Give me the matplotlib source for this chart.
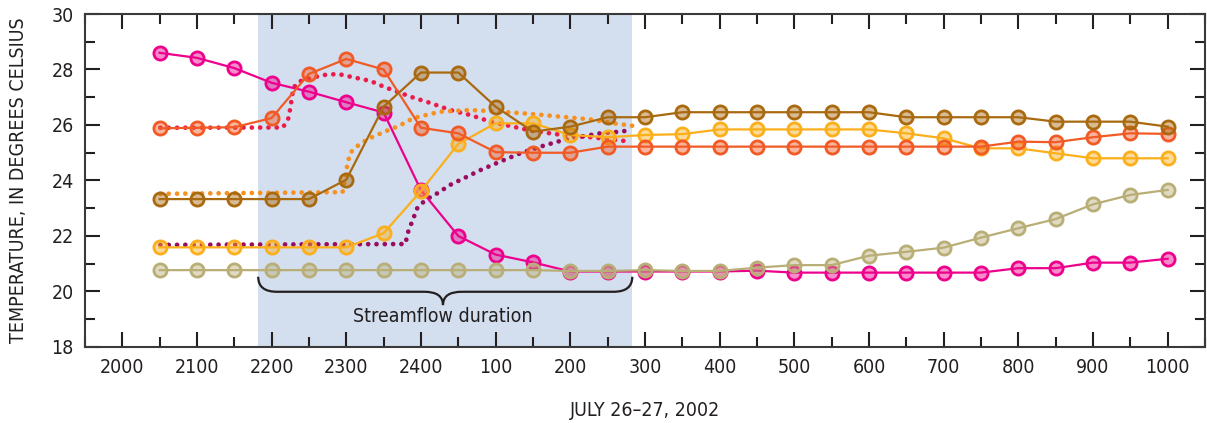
import numpy as np
import matplotlib
matplotlib.use("Agg")
import matplotlib.pyplot as plt
import matplotlib.ticker as ticker
from matplotlib.path import Path
import matplotlib.patches as mpatches
from matplotlib.colors import to_rgba
from matplotlib import font_manager

# narrow face if one is installed, else plain DejaVu
names = set(f.name for f in font_manager.fontManager.ttflist)
cond = [f for f in font_manager.fontManager.ttflist
        if f.name == 'DejaVu Sans' and 'Condensed' in f.fname and 'Bold' not in f.fname
        and 'Oblique' not in f.fname]
if cond:
    plt.rcParams['font.family'] = ['DejaVu Sans']
    plt.rcParams['font.stretch'] = 'condensed'
elif 'Roboto Condensed' in names:
    plt.rcParams['font.family'] = ['Roboto Condensed', 'DejaVu Sans']
else:
    plt.rcParams['font.family'] = ['Roboto', 'DejaVu Sans']

# hours after 2000 on July 26, measured every half hour
hours = np.arange(0.5, 14.01, 0.5)
tick_labels = ['2000', '2100', '2200', '2300', '2400', '100', '200', '300',
               '400', '500', '600', '700', '800', '900', '1000']

magenta = [28.6, 28.42, 28.05, 27.52, 27.2, 26.82, 26.45, 23.65, 22.0, 21.33,
           21.05, 20.72, 20.72, 20.72, 20.72, 20.72, 20.75, 20.68, 20.68, 20.68,
           20.68, 20.68, 20.68, 20.84, 20.84, 21.04, 21.04, 21.18]
orange_red = [25.88, 25.9, 25.92, 26.25, 27.84, 28.38, 28.0, 25.9, 25.7, 25.02,
              25.0, 25.0, 25.22, 25.22, 25.22, 25.22, 25.22, 25.22, 25.22, 25.22,
              25.22, 25.22, 25.22, 25.4, 25.38, 25.56, 25.7, 25.68]
brown = [23.33, 23.33, 23.33, 23.33, 23.33, 24.03, 26.66, 27.89, 27.89, 26.66,
         25.76, 25.94, 26.28, 26.28, 26.46, 26.46, 26.46, 26.46, 26.46, 26.46,
         26.28, 26.28, 26.28, 26.28, 26.12, 26.12, 26.12, 25.94]
yellow = [21.59, 21.59, 21.59, 21.59, 21.59, 21.59, 22.1, 23.62, 25.32, 26.06,
          26.06, 25.64, 25.56, 25.64, 25.67, 25.84, 25.84, 25.84, 25.84, 25.84,
          25.7, 25.52, 25.16, 25.16, 24.98, 24.8, 24.8, 24.8]
khaki = [20.77, 20.77, 20.77, 20.77, 20.77, 20.77, 20.77, 20.77, 20.77, 20.77,
         20.77, 20.74, 20.74, 20.77, 20.74, 20.74, 20.86, 20.95, 20.95, 21.29,
         21.43, 21.58, 21.94, 22.28, 22.61, 23.14, 23.48, 23.66]

# dotted (simulated) curves
red_dot_x = [0.51, 2.15, 2.22, 2.25, 2.29, 2.36, 2.48, 2.69, 2.89, 3.09, 3.32,
             3.52, 3.86, 4.13, 4.39, 4.66, 4.93, 5.2, 5.47, 5.73, 6.0, 6.27, 6.54, 6.81]
red_dot_y = [25.9, 25.91, 26.2, 26.6, 27.33, 27.56, 27.66, 27.8, 27.84, 27.72, 27.59,
             27.36, 27.02, 26.79, 26.54, 26.36, 26.12, 25.96, 25.8, 25.7, 25.6, 25.56, 25.48, 25.4]
orange_dot_x = [0.51, 2.95, 3.01, 3.05, 3.19, 3.36, 3.55, 3.7, 3.9, 4.26, 4.66,
                5.06, 5.47, 5.87, 6.27, 6.58, 6.87]
orange_dot_y = [23.52, 23.58, 24.5, 24.99, 25.34, 25.58, 25.8, 25.96, 26.25, 26.48, 26.54,
                26.48, 26.4, 26.3, 26.2, 26.06, 25.96]
purple_dot_x = [0.51, 3.79, 3.83, 3.89, 3.95, 4.06, 4.22, 4.39, 4.62, 4.8, 5.06,
                5.33, 5.6, 5.87, 6.14, 6.4, 6.67, 6.83]
purple_dot_y = [21.68, 21.71, 22.16, 22.58, 23.0, 23.3, 23.54, 23.84, 24.14, 24.38, 24.68,
                24.98, 25.22, 25.43, 25.58, 25.7, 25.76, 25.82]

flow_start, flow_end = 1.82, 6.83
ink = '#231F20'

fig = plt.figure(figsize=(12.07, 4.23), dpi=100)
ax = fig.add_axes([0.0704, 0.1797, 0.9279, 0.7872])

ax.axvspan(flow_start, flow_end, color='#D3DEEF', lw=0, zorder=0)

dot_style = dict(lw=3.4, linestyle=(0, (0.01, 1.75)), dash_capstyle='round', zorder=2)
ax.plot(red_dot_x, red_dot_y, color='#EC1C4A', **dot_style)
ax.plot(orange_dot_x, orange_dot_y, color='#F7901E', **dot_style)
ax.plot(purple_dot_x, purple_dot_y, color='#9B0B5E', **dot_style)

for vals, col in [(magenta, '#EC008C'), (khaki, '#B8AE76'), (yellow, '#FBAF1A'),
                  (orange_red, '#F15A24'), (brown, '#A9690F')]:
    ax.plot(hours, vals, '-o', color=col, lw=1.6, ms=9.5, mew=2.0,
            mfc=to_rgba(col, 0.45), mec=col, zorder=3)

# brace under the streamflow window
y_top, y_mid, y_tip = 20.53, 19.99, 19.51
xc = (flow_start + flow_end) / 2 - 0.03
r = 0.25
verts = [(flow_start, y_top), (flow_start, y_mid), (flow_start + r, y_mid),
         (xc - r, y_mid), (xc, y_mid), (xc, y_tip),
         (xc, y_mid), (xc + r, y_mid),
         (flow_end - r, y_mid), (flow_end, y_mid), (flow_end, y_top)]
codes = [Path.MOVETO, Path.CURVE3, Path.CURVE3,
         Path.LINETO, Path.CURVE3, Path.CURVE3,
         Path.CURVE3, Path.CURVE3,
         Path.LINETO, Path.CURVE3, Path.CURVE3]
ax.add_patch(mpatches.PathPatch(Path(verts, codes), fill=False, ec=ink, lw=1.6, zorder=4))
ax.text(xc, 19.09, 'Streamflow duration', ha='center', va='center', fontsize=14, color=ink)

ax.set_xlim(-0.5, 14.5)
ax.set_ylim(18, 30)
ax.xaxis.set_major_locator(ticker.FixedLocator(np.arange(0, 15)))
ax.xaxis.set_major_formatter(ticker.FixedFormatter(tick_labels))
ax.xaxis.set_minor_locator(ticker.MultipleLocator(0.5))
ax.yaxis.set_major_locator(ticker.MultipleLocator(2))
ax.yaxis.set_minor_locator(ticker.MultipleLocator(1))
ax.tick_params(which='both', direction='in', top=True, right=True, width=1.5,
               color=ink, labelsize=14, labelcolor=ink, pad=8)
ax.tick_params(which='major', length=11)
ax.tick_params(which='minor', length=7)
for s in ax.spines.values():
    s.set_linewidth(1.5)
    s.set_color('#3a3a3a')

ax.set_xlabel('JULY 26\u201327, 2002', fontsize=14, color=ink, labelpad=17)
ax.set_ylabel('TEMPERATURE, IN DEGREES CELSIUS', fontsize=14, color=ink, labelpad=17)

plt.savefig('out.png', dpi=100)
plt.close(fig)
